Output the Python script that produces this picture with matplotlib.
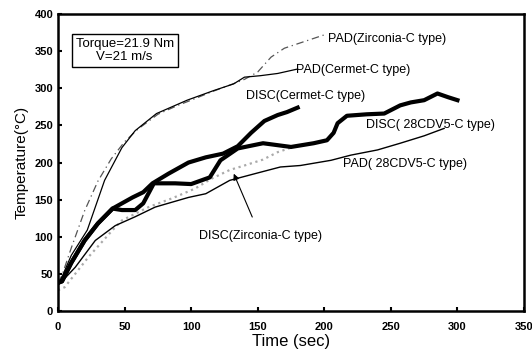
import matplotlib
matplotlib.use("Agg")
from matplotlib import pyplot as plt

plt.rcParams['font.family'] = ['Liberation Sans Narrow', 'Liberation Sans', 'DejaVu Sans']

# PAD (Zirconia-C type)
t_pad_zr = [0, 3, 10, 20, 30, 40, 50, 60, 75, 90, 100, 115, 130, 140, 150, 160, 170, 185, 200]
T_pad_zr = [38, 48, 85, 135, 175, 205, 228, 245, 265, 277, 284, 295, 305, 312, 322, 342, 354, 363, 372]

# PAD (Cermet-C type)
t_pad_ce = [0, 3, 10, 22, 35, 48, 58, 74, 97, 117, 132, 140, 152, 165, 180]
T_pad_ce = [35, 46, 75, 109, 176, 220, 243, 266, 284, 297, 306, 315, 317, 320, 326]

# DISC (Cermet-C type)
t_disc_ce = [0, 3, 10, 20, 30, 41, 48, 56, 64, 71, 83, 98, 111, 124, 135, 145, 155, 165, 172, 180]
T_disc_ce = [38, 40, 65, 95, 118, 138, 145, 153, 160, 172, 185, 200, 207, 212, 222, 240, 256, 264, 268, 274]

# DISC (28CDV5-C type)
t_disc_cd = [0, 3, 10, 20, 30, 41, 48, 58, 64, 72, 88, 100, 114, 122, 135, 154, 175, 192, 202, 207,
             210, 217, 232, 245, 257, 265, 275, 285, 293, 300]
T_disc_cd = [38, 40, 65, 95, 118, 138, 136, 136, 145, 172, 172, 171, 180, 203, 219, 226, 221, 226, 230, 240,
             253, 263, 265, 266, 277, 281, 284, 293, 288, 284]

# PAD (28CDV5-C type)
t_pad_cd = [0, 3, 13, 28, 43, 58, 73, 98, 111, 129, 150, 167, 182, 205, 220, 240, 257, 275, 290]
T_pad_cd = [35, 40, 59, 95, 115, 127, 140, 153, 158, 176, 186, 194, 196, 203, 210, 217, 226, 236, 246]

# DISC (Zirconia-C type)
t_disc_zr = [0, 5, 23, 41, 48, 68, 86, 103, 115, 129, 140, 154, 165, 175]
T_disc_zr = [28, 32, 73, 109, 122, 140, 152, 165, 178, 190, 196, 204, 214, 220]

fig = plt.figure(figsize=(5.32, 3.61), dpi=100)
ax = fig.add_axes([0.109, 0.1385, 0.876, 0.8225])

ax.plot(t_pad_zr, T_pad_zr, color='#555555', lw=0.9, ls=(0, (6, 3, 1, 3)))
ax.plot(t_pad_ce, T_pad_ce, color='black', lw=0.9)
ax.plot(t_disc_zr, T_disc_zr, color='#aaaaaa', lw=1.6, ls=':')
ax.plot(t_pad_cd, T_pad_cd, color='black', lw=1.0)
ax.plot(t_disc_ce, T_disc_ce, color='black', lw=3.0)
ax.plot(t_disc_cd, T_disc_cd, color='black', lw=3.0)

ax.set_xlim(0, 350)
ax.set_ylim(0, 400)
ax.set_xticks(range(0, 351, 50))
ax.set_yticks(range(0, 401, 50))
for s in ['top', 'bottom', 'left', 'right']:
    ax.spines[s].set_linewidth(1.8)
ax.tick_params(direction='in', length=3, width=1.5, labelsize=8)
for lab in ax.get_xticklabels() + ax.get_yticklabels():
    lab.set_fontweight('bold')
ax.xaxis.set_tick_params(pad=8)

ax.set_xlabel('Time (sec)', fontsize=12, family=['Liberation Sans', 'DejaVu Sans'], labelpad=1)
ax.set_ylabel('Temperature(\u00b0C)', fontsize=11, family=['Liberation Sans', 'DejaVu Sans'], labelpad=4)

lbl = dict(fontsize=9, va='center', ha='left')
ax.text(203, 367, 'PAD(Zirconia-C type)', **lbl)
ax.text(179, 325, 'PAD(Cermet-C type)', **lbl)
ax.text(141, 290, 'DISC(Cermet-C type)', **lbl)
ax.text(231, 251, 'DISC( 28CDV5-C type)', **lbl)
ax.text(214, 198, 'PAD( 28CDV5-C type)', **lbl)
ax.annotate('DISC(Zirconia-C type)', xy=(132, 185), xytext=(152, 101),
            fontsize=9, ha='center', va='center',
            arrowprops=dict(arrowstyle='-|>', color='black', lw=0.8, shrinkA=8, shrinkB=0))

ax.text(50, 351, 'Torque=21.9 Nm\nV=21 m/s', fontsize=9.5, ha='center', va='center',
        family=['Liberation Sans', 'DejaVu Sans'], linespacing=1.1,
        bbox=dict(boxstyle='square,pad=0.3', fc='white', ec='black', lw=1.0))

fig.savefig('out.png', dpi=100)
